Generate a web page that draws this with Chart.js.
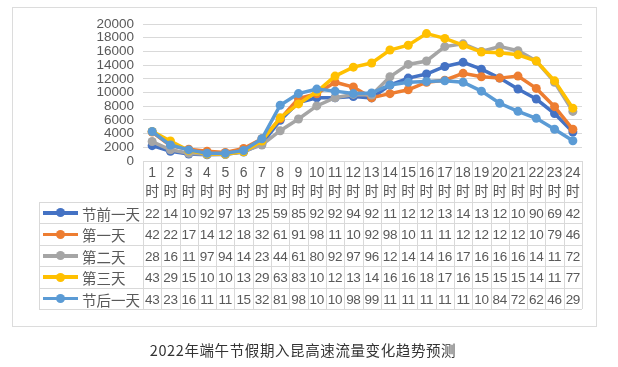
<!DOCTYPE html>
<html><head><meta charset="utf-8">
<script src="https://cdn.jsdelivr.net/npm/chart.js@4/dist/chart.umd.min.js"></script>
<style>
html,body{margin:0;padding:0;background:#fff;width:618px;height:367px;overflow:hidden;font-family:"Liberation Sans","Noto Sans CJK SC",sans-serif;}
#box{position:absolute;left:12px;top:7px;width:585px;height:320px;border:1px solid #dcdcdc;box-sizing:border-box;}
#c{position:absolute;left:0;top:0;}
#tbl{position:absolute;left:0;top:0;width:618px;height:367px;}
.hl{position:absolute;height:1px;background:#d9d9d9;}
.vl{position:absolute;width:1px;background:#d9d9d9;}
.t{position:absolute;color:#595959;text-align:center;white-space:nowrap;}
#cap{position:absolute;left:0;width:606px;top:339px;text-align:center;font-size:14.5px;letter-spacing:0.6px;color:#333;font-family:"Noto Sans CJK SC",sans-serif;}
</style></head>
<body>
<div id="box"></div>
<canvas id="c" width="618" height="367"></canvas>
<div id="tbl"></div>
<div id="cap">2022年端午节假期入昆高速流量变化趋势预测</div>
<script>
const hours = ['1','2','3','4','5','6','7','8','9','10','11','12','13','14','15','16','17','18','19','20','21','22','23','24'];
const hourUnit = '时';
const seriesNames = ['节前一天','第一天','第二天','第三天','节后一天'];
const preDay  = [2240,1430,1020,920,970,1310,2540,5940,8540,9240,9230,9420,9210,11100,12100,12700,13800,14400,13400,12100,10500,9040,6920,4240];
const day1    = [4230,2240,1720,1430,1250,1820,3240,6150,9130,9820,11500,10800,9240,9830,10400,11500,11800,12800,12300,12100,12400,10600,7930,4630];
const day2    = [2840,1630,1120,970,940,1420,2340,4420,6130,8040,9230,9720,9630,12300,14100,14600,16700,17100,16000,16700,16100,14600,11500,7240];
const day3    = [4320,2930,1510,1030,1020,1340,2920,6320,8330,10100,12400,13700,14300,16200,16900,18600,17900,16900,15900,15800,15500,14600,11700,7710];
const postDay = [4310,2330,1620,1130,1120,1540,3240,8140,9840,10500,10200,9840,9930,11100,11500,11600,11700,11500,10200,8420,7250,6230,4630,2960];
const yTicks = [0,2000,4000,6000,8000,10000,12000,14000,16000,18000,20000];

const colors = ['#4472C4','#ED7D31','#A5A5A5','#FFC000','#5B9BD5'];
const allData = [preDay, day1, day2, day3, postDay];

const datasets = allData.map((d,i)=>({
  label: seriesNames[i],
  data: d,
  borderColor: colors[i],
  backgroundColor: colors[i],
  borderWidth: 3.5,
  pointRadius: 4.5,
  pointBorderWidth: 0,
  pointBackgroundColor: colors[i],
  tension: 0,
  order: 4 - i
}));

const chart = new Chart(document.getElementById('c'), {
  type: 'line',
  data: { labels: hours, datasets },
  options: {
    responsive: false,
    animation: false,
    devicePixelRatio: 1,
    layout: { padding: { left: 0, right: 36, top: 24, bottom: 206 } },
    plugins: { legend: { display: false }, tooltip: { enabled: false } },
    scales: {
      x: { display: false, offset: true },
      y: {
        min: 0, max: 20000,
        afterBuildTicks: s => { s.ticks = yTicks.map(v => ({ value: v })); },
        afterFit: s => { s.width = 143; },
        border: { display: false },
        grid: { color: '#d9d9d9', lineWidth: 1, drawTicks: false },
        ticks: { padding: 9, color: '#595959', font: { family: 'Liberation Sans', size: 13.5 }, autoSkip: false, callback: v => String(v) }
      }
    }
  }
});

// build data table below the plot, aligned to the x scale
(function(){
  const xs = chart.scales.x;
  const area = chart.chartArea;
  const tbl = document.getElementById('tbl');
  const colW = (area.right - area.left) / hours.length;
  const tableLeft = 39;
  const top = Math.round(area.bottom);
  const headH = 41;
  const rowH = 21.4;
  const bottom = top + headH + rowH * seriesNames.length;
  const add = (cls, st, txt) => { const e = document.createElement('div'); e.className = cls; Object.assign(e.style, st); if (txt !== undefined) e.textContent = txt; tbl.appendChild(e); return e; };
  for (let r = 0; r <= seriesNames.length; r++) {
    const y = Math.round(top + headH + r * rowH);
    add('hl', { left: tableLeft + 'px', top: y + 'px', width: (area.right - tableLeft) + 'px' });
  }
  add('vl', { left: tableLeft + 'px', top: (top + headH) + 'px', height: (bottom - top - headH) + 'px' });
  for (let i = 0; i <= hours.length; i++) {
    const x = Math.round(area.left + i * colW);
    add('vl', { left: x + 'px', top: top + 'px', height: (bottom - top) + 'px' });
  }
  hours.forEach((h, i) => {
    const cx = xs.getPixelForValue(i);
    add('t', { left: (cx - colW / 2) + 'px', width: colW + 'px', top: (top + 2) + 'px', fontSize: '14px', lineHeight: '19px' }, h);
    add('t', { left: (cx - colW / 2) + 'px', width: colW + 'px', top: (top + 20) + 'px', fontSize: '14px', lineHeight: '19px', fontFamily: '"Noto Sans CJK SC"' }, hourUnit);
  });
  allData.forEach((d, r) => {
    const y = top + headH + r * rowH;
    add('', { position: 'absolute', left: '43px', width: '35px', height: '3.5px', top: (y + rowH / 2 - 1.5) + 'px', background: colors[r] });
    add('', { position: 'absolute', left: '56px', width: '9px', height: '9px', borderRadius: '50%', top: (y + rowH / 2 - 4.3) + 'px', background: colors[r] });
    add('t', { left: '82px', top: (y + 1) + 'px', lineHeight: rowH + 'px', fontSize: '14.5px', textAlign: 'left', fontFamily: '"Noto Sans CJK SC"' }, seriesNames[r]);
    d.forEach((v, i) => {
      const cx = xs.getPixelForValue(i);
      add('t', { left: (cx - colW / 2 - 2) + 'px', width: (colW + 4) + 'px', top: (y + 1) + 'px', lineHeight: rowH + 'px', fontSize: '13.5px', letterSpacing: '-0.3px' }, String(v).slice(0, 2));
    });
  });
})();
</script>
</body></html>
